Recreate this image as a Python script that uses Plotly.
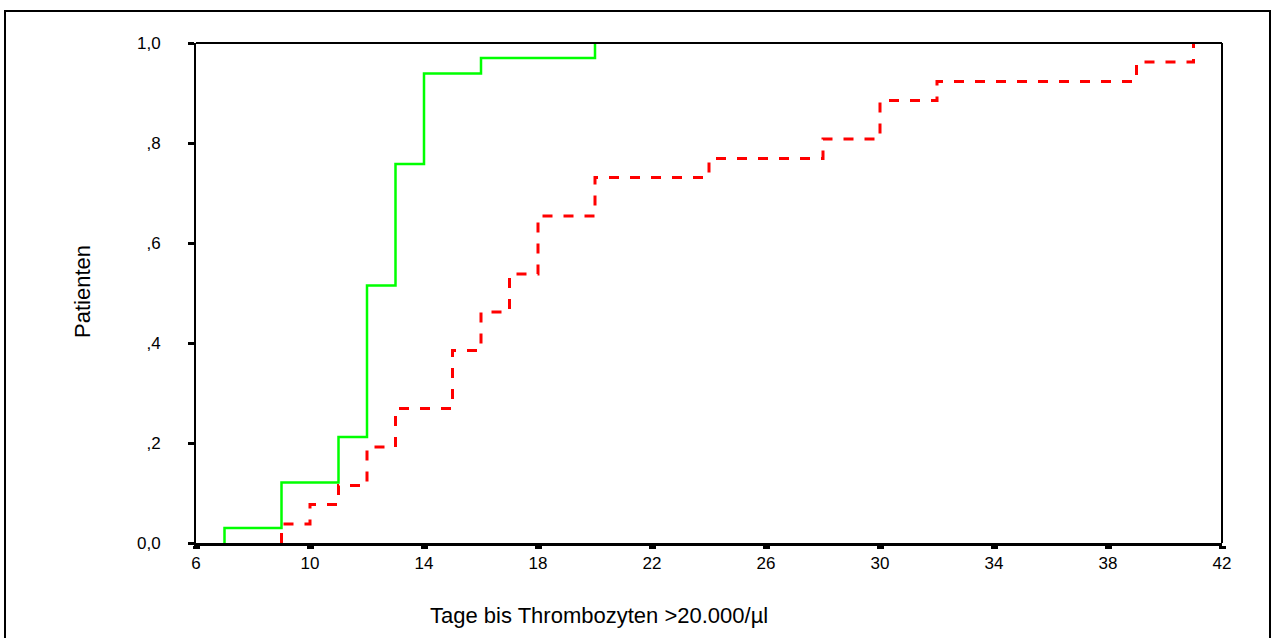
import plotly.graph_objects as go

# Cumulative proportion of patients reaching platelets >20.000/µl, by day
green_days = [7, 9, 11, 12, 13, 14, 16, 20]
green_prop = [0.030, 0.121, 0.212, 0.515, 0.758, 0.939, 0.970, 1.000]

red_days = [9, 10, 11, 12, 13, 15, 16, 17, 18, 20, 24, 28, 30, 32, 39, 41]
red_prop = [0.038, 0.077, 0.115, 0.192, 0.269, 0.385, 0.462, 0.538,
            0.654, 0.731, 0.769, 0.808, 0.885, 0.923, 0.962, 1.000]

x_ticks = [6, 10, 14, 18, 22, 26, 30, 34, 38, 42]
y_ticks = [0.0, 0.2, 0.4, 0.6, 0.8, 1.0]
y_tick_text = ["0,0", ",2", ",4", ",6", ",8", "1,0"]

x_title = "Tage bis Thrombozyten >20.000/µl"
y_title = "Patienten"

FONT = "Liberation Sans, Arial, sans-serif"

fig = go.Figure()

# step curves start at zero at the first event day
fig.add_trace(go.Scatter(
    x=[green_days[0]] + green_days, y=[0] + green_prop,
    mode="lines", line=dict(shape="hv", color="#00FF00", width=2.5),
    showlegend=False, hoverinfo="skip"))
fig.add_trace(go.Scatter(
    x=[red_days[0]] + red_days, y=[0] + red_prop,
    mode="lines", line=dict(shape="hv", color="#FF0000", width=3, dash="10px,11px"),
    showlegend=False, hoverinfo="skip"))

fig.update_layout(
    width=1273, height=638,
    margin=dict(l=196, r=51, t=43, b=95),
    paper_bgcolor="white", plot_bgcolor="white",
    font=dict(family=FONT, size=17, color="black"),
    xaxis=dict(range=[6, 42], tickvals=x_ticks, ticktext=[str(v) for v in x_ticks],
               showgrid=False, zeroline=False, showline=True, linecolor="black", linewidth=3,
               ticks="outside", ticklen=3, tickwidth=7, tickcolor="black",
               ticklabelstandoff=0, tickfont=dict(size=17)),
    yaxis=dict(range=[0, 1], tickvals=y_ticks, ticktext=y_tick_text,
               showgrid=False, zeroline=False, showline=True, linecolor="black", linewidth=2,
               ticks="outside", ticklen=6, tickwidth=3, tickcolor="black",
               ticklabelstandoff=24, tickfont=dict(size=17)),
    shapes=[
        # top and right border of the plot area
        dict(type="line", xref="paper", yref="paper", x0=0, x1=1, y0=1, y1=1,
             line=dict(color="black", width=2)),
        dict(type="line", xref="paper", yref="paper", x0=1, x1=1, y0=0, y1=1,
             line=dict(color="black", width=2)),
        # outer chart frame
        dict(type="rect", xref="paper", yref="paper",
             x0=(5 - 196) / 1026, x1=(1270 - 196) / 1026,
             y0=-0.3, y1=(543 - 11) / 500,
             line=dict(color="black", width=2), fillcolor="rgba(0,0,0,0)"),
    ],
    annotations=[
        dict(text=x_title, xref="paper", yref="paper",
             x=(599 - 196) / 1026, y=(543 - 615) / 500,
             xanchor="center", yanchor="middle", showarrow=False,
             font=dict(size=22)),
        dict(text=y_title, xref="paper", yref="paper",
             x=(82 - 196) / 1026, y=(543 - 292) / 500, textangle=-90,
             xanchor="center", yanchor="middle", showarrow=False,
             font=dict(size=22)),
    ],
)

fig.write_html("out.html")
